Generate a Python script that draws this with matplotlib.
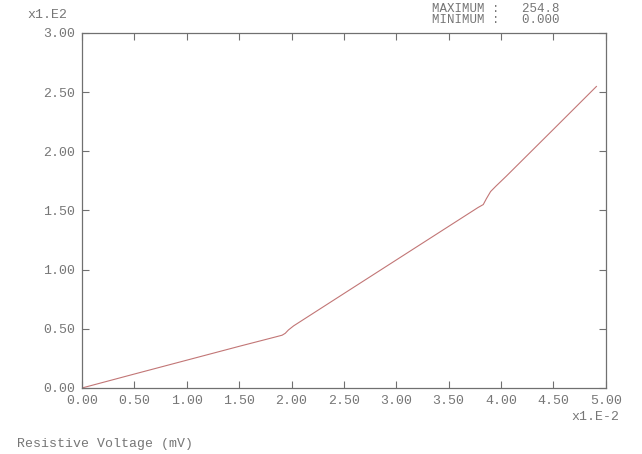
import numpy as np
import matplotlib.pyplot as plt

# resistive voltage (x1.E-2 mV) and response (x1.E2)
volt = np.array([0.0, 0.50, 1.00, 1.50, 1.85, 1.91, 1.94, 1.97, 2.02,
                 2.50, 3.00, 3.50, 3.78, 3.83, 3.86, 3.90, 3.95, 4.05,
                 4.50, 4.91])
resp = np.array([0.0, 0.118, 0.235, 0.352, 0.432, 0.446, 0.462, 0.49, 0.525,
                 0.798, 1.082, 1.366, 1.525, 1.55, 1.60, 1.66, 1.705, 1.79,
                 2.186, 2.548])

xticks = [0, 0.5, 1.0, 1.5, 2.0, 2.5, 3.0, 3.5, 4.0, 4.5, 5.0]
yticks = [0, 0.5, 1.0, 1.5, 2.0, 2.5, 3.0]

plt.rcParams['font.family'] = ['Liberation Mono', 'DejaVu Sans Mono']
grey = '#707070'
tcol = '#767676'
fs = 9.5

fig = plt.figure(figsize=(6.42, 4.54), dpi=100)
ax = fig.add_axes([0.1277, 0.1454, 0.816, 0.782])
ax.plot(volt, resp, color='#c27676', lw=0.8)

ax.set_xlim(0, 5)
ax.set_ylim(0, 3)
ax.set_xticks(xticks)
ax.set_yticks(yticks)
ax.set_xticklabels(['%.2f' % v for v in xticks])
ax.set_yticklabels(['%.2f' % v for v in yticks])
ax.tick_params(direction='in', length=5, width=0.8, color=grey,
               labelcolor=tcol, labelsize=fs, top=True, right=True,
               pad=5)
for s in ax.spines.values():
    s.set_color(grey)
    s.set_linewidth(0.9)

# max/min block in the top right corner
fig.text(0.673, 0.981, 'MAXIMUM :   254.8', fontsize=9, color=tcol, va='center')
fig.text(0.673, 0.955, 'MINIMUM :   0.000', fontsize=9, color=tcol, va='center')

fig.text(0.043, 0.966, 'x1.E2', fontsize=fs, color=tcol, va='center')
fig.text(0.890, 0.081, 'x1.E-2', fontsize=fs, color=tcol, va='center')
fig.text(0.026, 0.022, 'Resistive Voltage (mV)', fontsize=fs, color=tcol, va='center')

fig.savefig('out.png', dpi=100)
